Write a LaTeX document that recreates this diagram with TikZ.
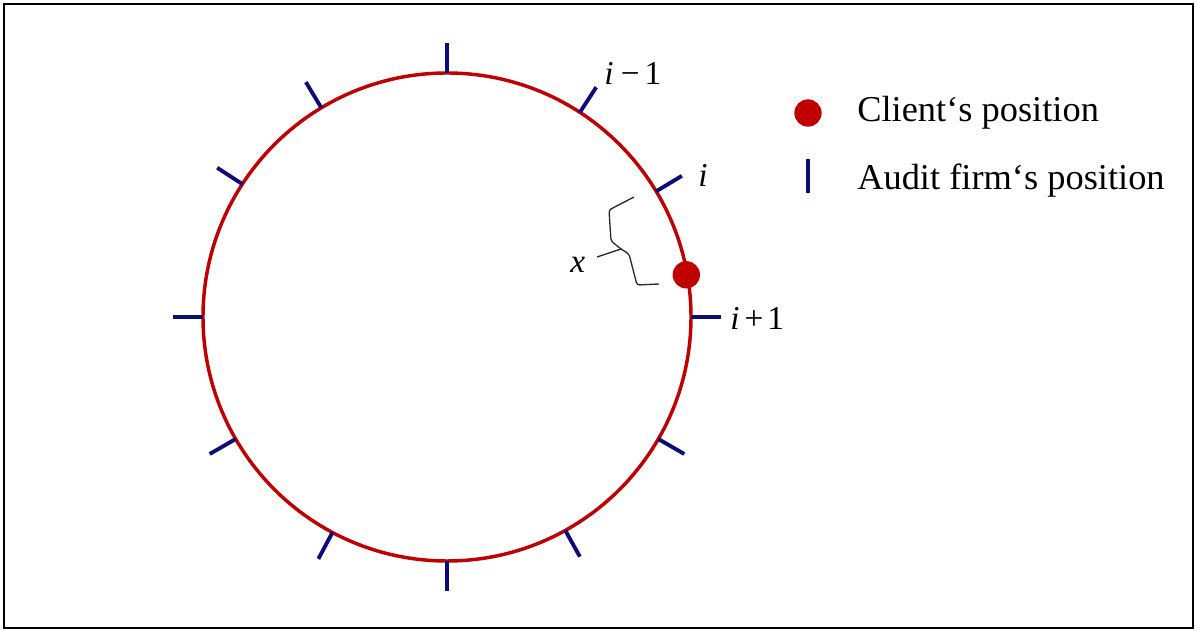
\documentclass[tikz,border=0pt]{standalone}
\usepackage{fontspec}
\setmainfont{Liberation Serif}
\usepackage{xcolor}
\usepackage{tikz}
\usetikzlibrary{calc}
\definecolor{ringRed}{HTML}{C00000}
\definecolor{tickNavy}{HTML}{0C0C78}
\definecolor{braceInk}{HTML}{2A2A2A}

\begin{document}
\begin{tikzpicture}[x=0.75pt, y=0.75pt,
    ring/.style={draw=ringRed, line width=2.6pt},
    firmtick/.style={draw=tickNavy, line width=2.9pt},
    clientdot/.style={circle, fill=ringRed, inner sep=0pt, minimum size=20.5pt},
    lbl/.style={font=\fontsize{25}{30}\selectfont, inner sep=0pt, anchor=base west},
    keytxt/.style={lbl, font=\fontsize{27.3}{32}\selectfont}]
  \useasboundingbox (0,0) rectangle (1197,631);
  \draw[line width=2pt] (4,3) rectangle (1193,627);

  % market circle with the audit firms
  \coordinate (ctr) at (447,314);
  \draw[ring] (ctr) circle[radius=244];
  \foreach \a in {0,31,57,90,121,147,180,210,242,270,299,330}
    \draw[firmtick] ($(ctr)+(\a:244)$) -- ($(ctr)+(\a:274)$);
  \node[clientdot] (client) at ($(ctr)+(10:243)$) {};

  % brace for the distance x
  \draw[braceInk, line width=1pt, rounded corners=2pt]
    (634,434) -- (609,421) -- (611,390) -- (621,382) -- (629,377) -- (637,346) -- (659,347);
  \draw[braceInk, line width=1pt] (621,382) -- (597,374);

  \node[lbl] (xlbl) at (570,358) {\textit{x}};
  \node[lbl] (prevlbl) at (604,546) {\textit{i}\hspace{0.22em}−\hspace{0.15em}1};
  \node[lbl] (curlbl) at (698,444) {\textit{i}};
  \node[lbl] (nextlbl) at (730,301) {\textit{i}\hspace{0.15em}+\hspace{0.12em}1};

  % legend
  \node[clientdot] (keyclient) at (808,518) {};
  \draw[firmtick] (808,472) -- (808,438);
  \node[keytxt] (keyclienttxt) at (857,509) {Client‘s position};
  \node[keytxt] (keyfirmtxt) at (857,441) {Audit firm‘s position};
\end{tikzpicture}
\end{document}
